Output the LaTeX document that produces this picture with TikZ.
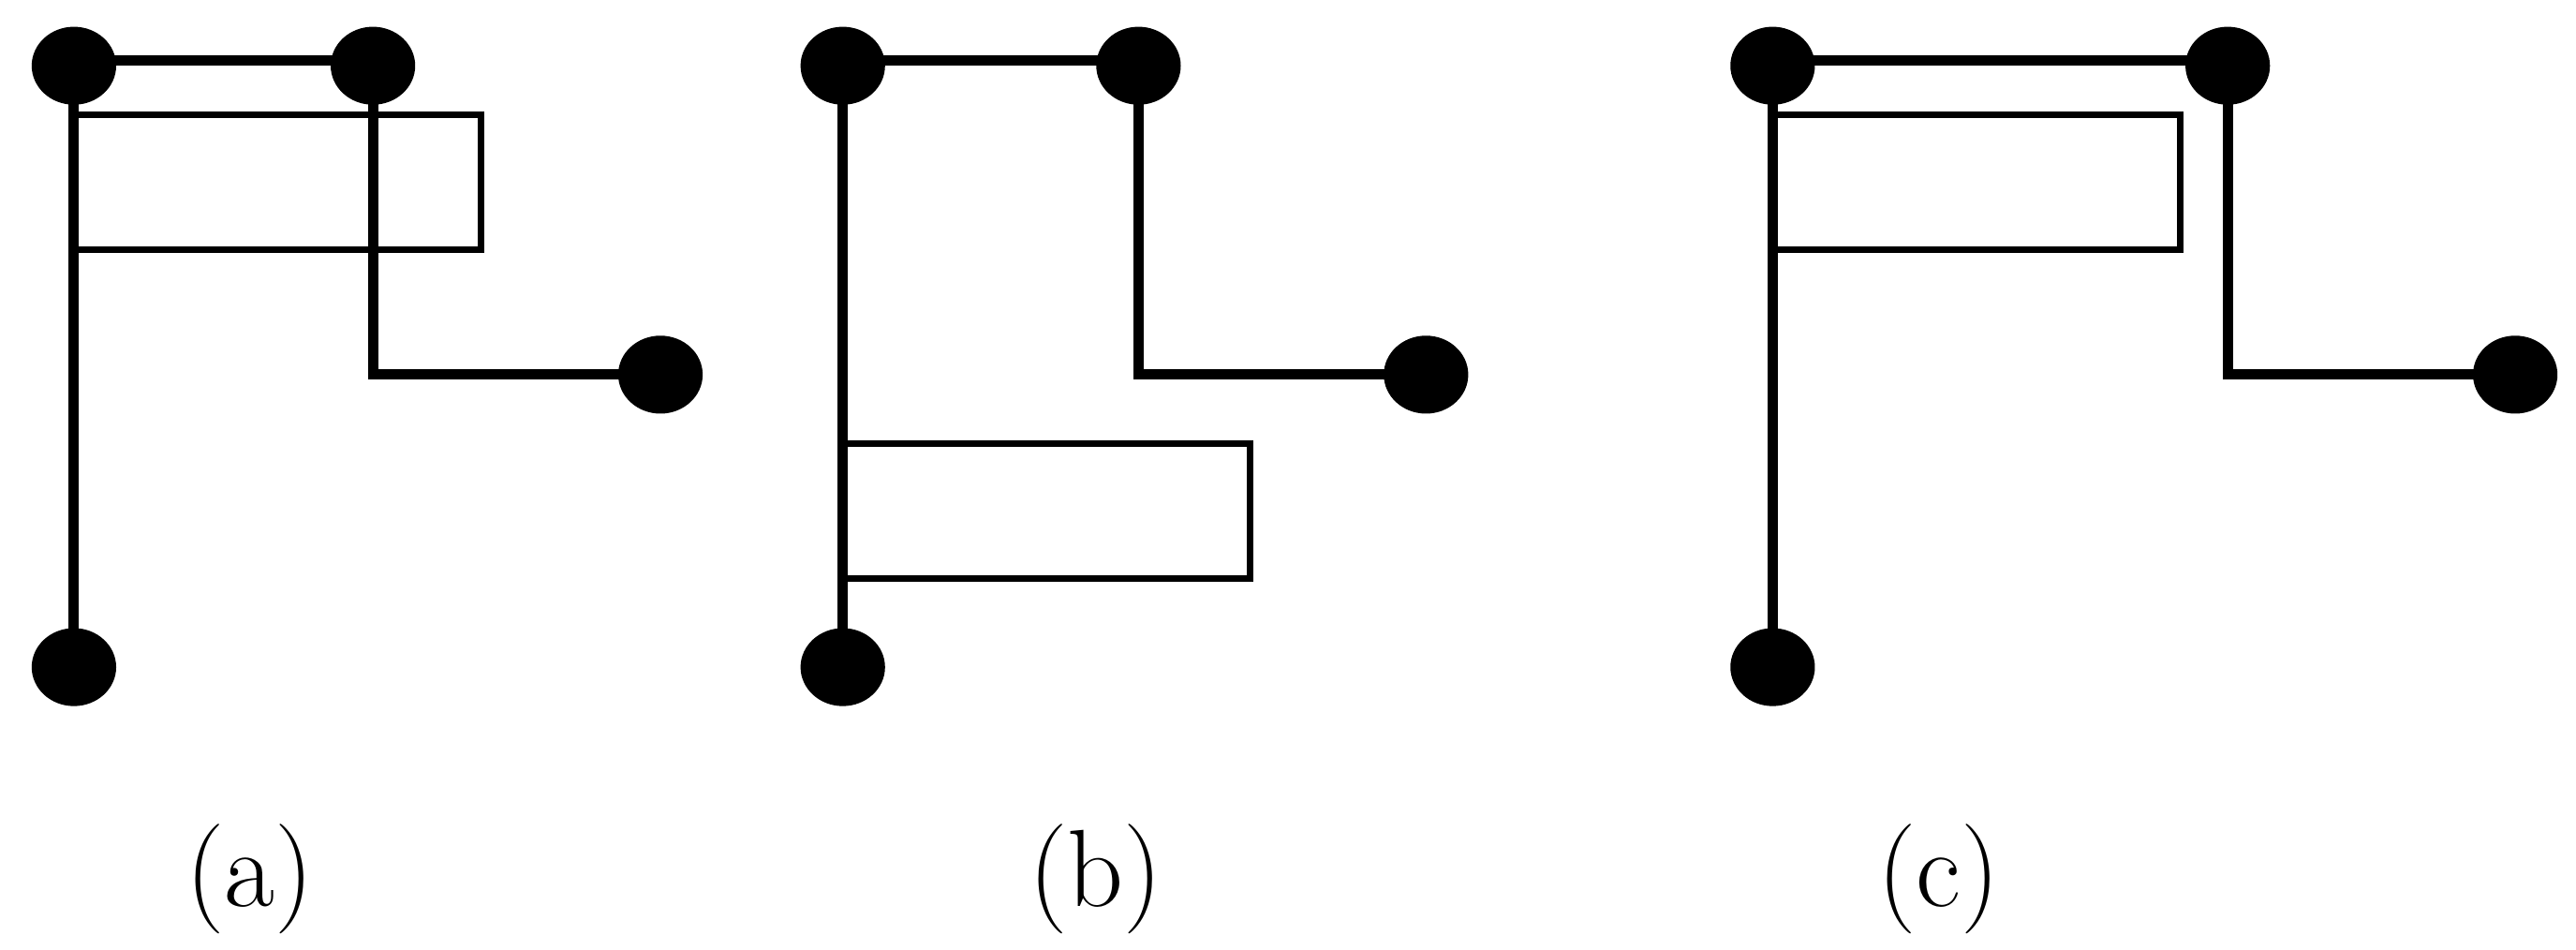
\documentclass[tikz,border=0pt]{standalone}
\usetikzlibrary{positioning,shapes.geometric}
\begin{document}
\begin{tikzpicture}[
  x=0.01cm,y=-0.01cm,
  pin/.style={draw,fill=black,ellipse,minimum width=0.5cm,minimum height=0.46cm,inner sep=0pt},
  wire/.style={line width=1.8pt},
  box/.style={line width=1.1pt},
  caption/.style={font=\fontsize{19}{23}\selectfont},
  every node/.style={align=center}]
  \useasboundingbox (0,0) rectangle (1568,578);

  % three panels: shift, second pin offset, rectangle top, caption x
  \foreach \name/\sx/\bx/\ry/\cx in {a/0/182/70/152, b/468/180/270/199, c/1034/277/70/146} {
    \begin{scope}[xshift=\sx*0.01cm]
      \node[pin] (\name-tl) at (45,40) {};
      \node[pin] (\name-tr) at (45+\bx,40) {};
      \node[pin] (\name-r) at (45+\bx+175,228) {};
      \node[pin] (\name-bl) at (45,406) {};
      \coordinate (\name-k) at (45+\bx,228);
      \draw[box] (45,\ry) rectangle (293,\ry+82);
      \draw[wire] (\name-tl.center) -- (\name-bl.center);
      \draw[wire] ([yshift=0.03cm]\name-tl.center) -- ([yshift=0.03cm]\name-tr.center);
      \draw[wire] (\name-tr.center) -- (\name-k) -- (\name-r.center);
      \node[caption] (\name-cap) at (\cx,535) {(\name)};
    \end{scope}
  }
\end{tikzpicture}
\end{document}
